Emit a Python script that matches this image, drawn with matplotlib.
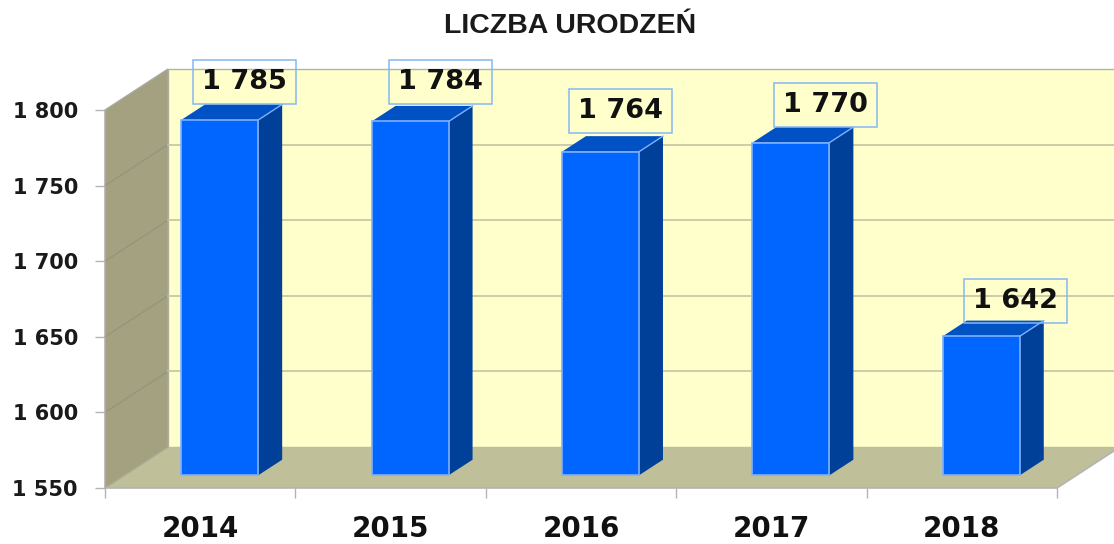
import matplotlib
matplotlib.use("Agg")
import matplotlib.pyplot as plt

title = "LICZBA URODZEŃ"
years = ["2014", "2015", "2016", "2017", "2018"]
births = [1785, 1784, 1764, 1770, 1642]
births_labels = ["1 785", "1 784", "1 764", "1 770", "1 642"]
y_ticks = [1550, 1600, 1650, 1700, 1750, 1800]
y_tick_labels = ["1 550", "1 600", "1 650", "1 700", "1 750", "1 800"]

# Layout of the pseudo-3D projection (pixels)
W, H = 1114, 544
L, R, B, T = 105, 1057, 488, 110
DEPTH_X = 63 / ((R - L) / 5)           # in x data units
DEPTH_Y = 41 / ((B - T) / 250)         # in y data units
BAR_W = 77 / ((R - L) / 5)
BAR_FRONT, BAR_BACK = 0.31, 0.69       # fraction of the depth
# hand-placed label box centres, offset from the bar's top-back edge (px)
label_dx = [1, 6.5, -4, 11, 10]
label_dy = [22, 23.5, 25.5, 22, 19.5]

fig = plt.figure(figsize=(W / 100, H / 100), dpi=100, facecolor="white")
ax = fig.add_axes([L / W, 1 - B / H, (R - L) / W, (B - T) / H])
ax.set_xlim(0, len(years))
ax.set_ylim(y_ticks[0], y_ticks[-1])
ax.patch.set_visible(False)


def proj(x, y, d):
    return x + d * DEPTH_X, y + d * DEPTH_Y


def face(points, **kw):
    xs, ys = zip(*[proj(*p) for p in points])
    ax.fill(xs, ys, clip_on=False, **kw)


xmin, xmax = 0, len(years)
ymin, ymax = y_ticks[0], y_ticks[-1]
WALL, FLOOR, BACK = "#A3A180", "#BFBF99", "#FFFFCC"
face([(xmin, ymin, 1), (xmax, ymin, 1), (xmax, ymax, 1), (xmin, ymax, 1)],
     facecolor=BACK, edgecolor="#B4B4A0", linewidth=1, zorder=1)
face([(xmin, ymin, 0), (xmin, ymin, 1), (xmin, ymax, 1), (xmin, ymax, 0)],
     facecolor=WALL, edgecolor="#A9A9A0", linewidth=1, zorder=1.1)
face([(xmin, ymin, 0), (xmax, ymin, 0), (xmax, ymin, 1), (xmin, ymin, 1)],
     facecolor=FLOOR, edgecolor="none", zorder=1.2)

for v in y_ticks[1:-1]:
    (x0, y0), (x1, y1), (x2, y2) = proj(xmin, v, 0), proj(xmin, v, 1), proj(xmax, v, 1)
    ax.plot([x0, x1], [y0, y1], color="#94947F", lw=0.9, zorder=1.5, clip_on=False)
    ax.plot([x1, x2], [y1, y2], color="#C4C4A4", lw=1.2, zorder=1.5, clip_on=False)
# floor edges
x0, y0 = proj(xmax, ymin, 0)
x1, y1 = proj(xmax, ymin, 1)
ax.plot([x0, x1], [y0, y1], color="#B4B4B4", lw=1.2, zorder=1.6, clip_on=False)
x0, y0 = proj(xmin, ymin, 0)
x1, y1 = proj(xmin, ymin, 1)
ax.plot([x0, x1], [y0, y1], color="#A9A98F", lw=1, zorder=1.6, clip_on=False)

for i, v in enumerate(births):
    left = i + 0.5 - BAR_W / 2
    right = i + 0.5 + BAR_W / 2
    f, b = BAR_FRONT, BAR_BACK
    face([(right, ymin, f), (right, ymin, b), (right, v, b), (right, v, f)],
         facecolor="#004099", edgecolor="none", zorder=3)
    face([(left, v, f), (right, v, f), (right, v, b), (left, v, b)],
         facecolor="#0052C4", edgecolor="none", zorder=3)
    face([(left, ymin, f), (right, ymin, f), (right, v, f), (left, v, f)],
         facecolor="#0066FF", edgecolor="#7FB0FF", linewidth=1.2, zorder=3.2)
    xr, yr = proj(right, v, f)
    xr2, yr2 = proj(right, v, b)
    ax.plot([xr, xr2], [yr, yr2], color="#7FB0FF", lw=1, zorder=3.3, clip_on=False)

    cx, cy = proj(i + 0.5, v, b)
    ax.annotate(births_labels[i], xy=(cx, cy), xycoords="data",
                xytext=(label_dx[i] * 0.72, label_dy[i] * 0.72),
                textcoords="offset points", ha="center", va="center",
                fontsize=19.5, fontweight="bold", color="#111111",
                family="DejaVu Sans", zorder=5, annotation_clip=False,
                bbox=dict(boxstyle="square,pad=0.33", facecolor="none",
                          edgecolor="#85B8F2", linewidth=1.1))

for s in ["top", "right"]:
    ax.spines[s].set_visible(False)
ax.spines["left"].set_color("#A9A9A0")
ax.spines["bottom"].set_color("#B4B4B4")
ax.spines["bottom"].set_linewidth(1.2)
ax.spines["bottom"].set_zorder(2)
ax.spines["left"].set_zorder(2)

ax.set_yticks(y_ticks, y_tick_labels)
ax.tick_params(axis="y", length=7.5, width=1, color="#B4B4B4", pad=12,
               labelsize=15, labelcolor="#1a1a1a")
ax.set_xticks(range(len(years) + 1), [""] * (len(years) + 1))
ax.tick_params(axis="x", which="major", length=7.5, width=1, color="#B4B4B4")
ax.set_xticks([i + 0.5 for i in range(len(years))], years, minor=True)
ax.tick_params(axis="x", which="minor", length=0, pad=19.5, labelsize=20,
               labelcolor="#111111")
for lab in ax.get_yticklabels() + ax.get_xticklabels(minor=True):
    lab.set_fontweight("bold")
    lab.set_family("DejaVu Sans")

fig.text(570 / W, 1 - 33 / H, title, ha="center", va="baseline",
         fontsize=20.5, fontweight="bold", family="Liberation Sans", color="#1a1a1a")

fig.savefig("out.png", dpi=100)
